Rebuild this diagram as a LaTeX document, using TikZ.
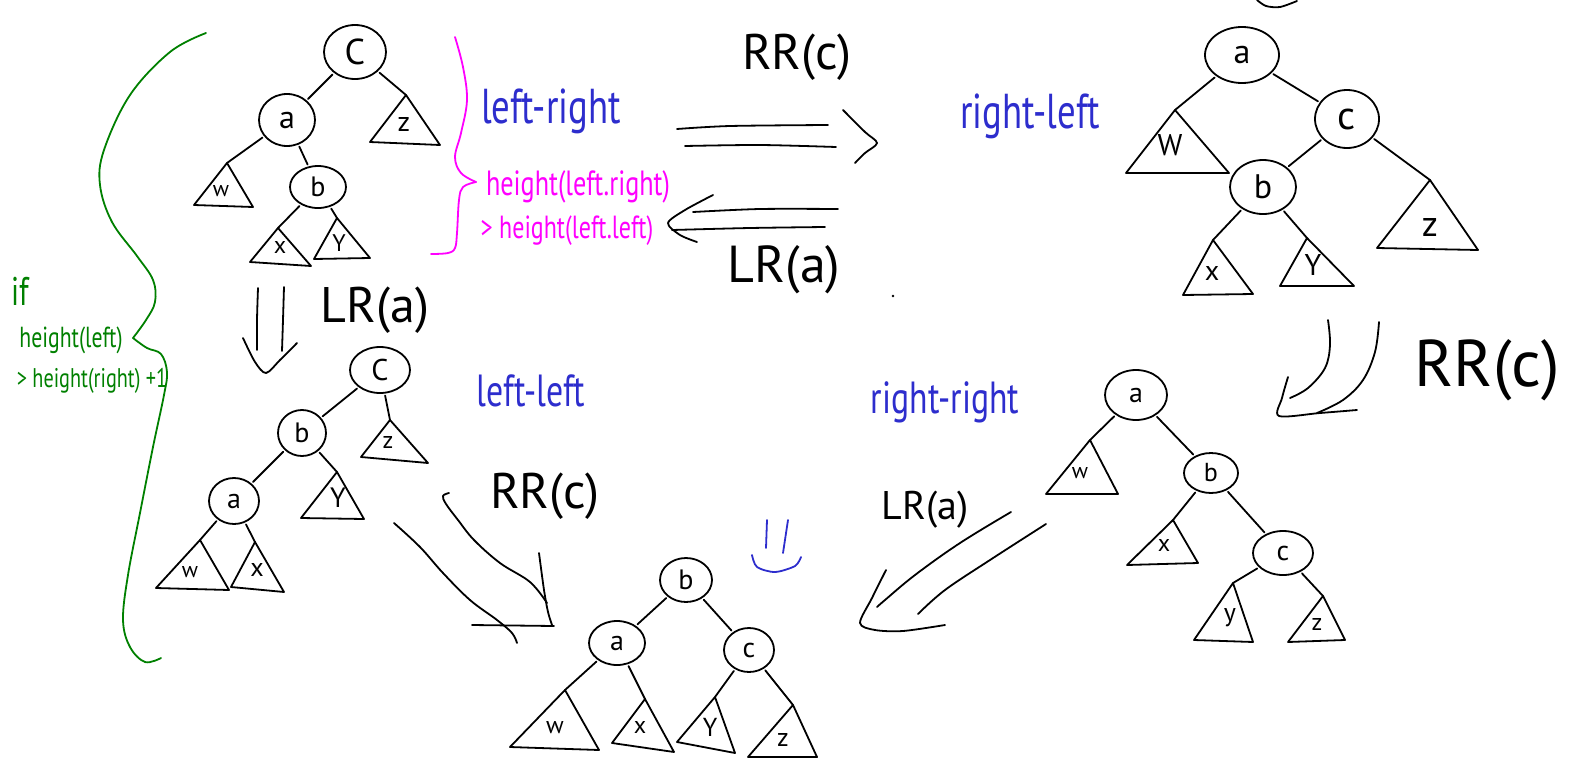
\documentclass[tikz,border=0pt]{standalone}
\usepackage{fontspec}
\usepackage{graphicx}
\setmainfont{PT Sans}
\usetikzlibrary{shapes.geometric}
\definecolor{hblue}{RGB}{45,45,205}
\definecolor{hmag}{RGB}{255,0,255}
\definecolor{hgreen}{RGB}{0,128,0}
\newcommand{\fsz}[1]{\fontsize{#1}{#1}\selectfont}
\newcommand{\narrow}[1]{\scalebox{0.75}[1]{#1}}
\begin{document}
\begin{tikzpicture}[x=1pt,y=-1pt,
  lw/.style={line width=1.8pt, line cap=round, line join=round},
  vtx/.style={ellipse, draw, lw, inner sep=0pt},
  conn/.style={lw, shorten <=2pt},
  vconn/.style={lw, shorten <=2pt, shorten >=2pt},
  tri/.style={draw, lw},
  hand/.style={lw},
  lbl/.style={inner sep=0pt},
  btxt/.style={inner sep=0pt, text=hblue},
  mtxt/.style={inner sep=0pt, text=hmag},
  gtxt/.style={inner sep=0pt, text=hgreen},
  ktxt/.style={inner sep=0pt},
]
\useasboundingbox (0,0) rectangle (1583,761);

% ---------- top-left tree ----------
\node[vtx, minimum width=62pt, minimum height=54pt, font=\fsz{36}] (TLc) at (355,52) {C};
\node[vtx, minimum width=56pt, minimum height=52pt, font=\fsz{32}] (TLa) at (287,120) {a};
\node[vtx, minimum width=56pt, minimum height=42pt, font=\fsz{28}] (TLb) at (318,187) {b};
\coordinate (TLz) at (406,95);
\draw[tri] (TLz) -- (370,142) -- (440,145) -- cycle;
\node[lbl, font=\fsz{28}] (TLzl) at (404,124) {z};
\coordinate (TLw) at (227,163);
\draw[tri] (TLw) -- (194,205) -- (253,207) -- cycle;
\node[lbl, font=\fsz{22}] (TLwl) at (221,191) {w};
\coordinate (TLx) at (278,228);
\draw[tri] (TLx) -- (250,262) -- (311,266) -- cycle;
\node[lbl, font=\fsz{24}] (TLxl) at (280,247) {x};
\coordinate (TLy) at (337,218);
\draw[tri] (TLy) -- (314,259) -- (370,258) -- cycle;
\node[lbl, font=\fsz{24}] (TLyl) at (339,243) {Y};
\draw[vconn] (TLc) -- (TLa);
\draw[conn] (TLc) -- (TLz);
\draw[conn] (TLa) -- (TLw);
\draw[vconn] (TLa) -- (TLb);
\draw[conn] (TLb) -- (TLx);
\draw[conn] (TLb) -- (TLy);

% magenta brace and text
\draw[lw, hmag] plot[smooth, tension=0.6] coordinates {(455,37) (463,67) (467,100) (461,133) (455,157) (461,173) (476,182)};
\draw[lw, hmag] plot[smooth, tension=0.6] coordinates {(476,182) (463,187) (459,200) (457,233) (455,248) (448,253) (431,254)};
\node[btxt, font=\fsz{49}] (tLR) at (551,111) {\narrow{left-right}};
\node[mtxt, font=\fsz{35}] (tH1) at (578,187) {\narrow{height(left.right)}};
\node[mtxt, font=\fsz{32}] (tH2) at (567,231) {\narrow{> height(left.left)}};

% green brace and text
\draw[lw, hgreen] plot[smooth, tension=0.6] coordinates {(206,33) (170,52) (130,95) (104,150) (100,185) (112,222) (137,256) (153,280) (155,302) (146,320) (133,338)};
\draw[lw, hgreen] plot[smooth, tension=0.6] coordinates {(133,338) (147,348) (161,354) (167,372) (164,395) (153,447) (140,513) (128,575) (123,620) (130,647) (145,662) (161,658)};
\node[gtxt, font=\fsz{40}] (tif) at (20,291) {\narrow{if}};
\node[gtxt, font=\fsz{29}] (tg1) at (71,340) {\narrow{height(left)}};
\node[gtxt, font=\fsz{27}] (tg2) at (92,381) {\narrow{> height(right) +1}};

% ---------- top arrows ----------
\node[ktxt, font=\fsz{50}] (tRR1) at (797,57) {RR(c)};
\node[ktxt, font=\fsz{52}] (tLR1) at (784,270) {LR(a)};
\draw[hand] plot[smooth] coordinates {(677,129) (730,126) (828,125)};
\draw[hand] plot[smooth] coordinates {(685,146) (760,145) (836,147)};
\draw[hand] plot[smooth, tension=0.5] coordinates {(843,110) (865,132) (877,143) (865,153) (855,163)};
\draw[hand] plot[smooth] coordinates {(693,212) (760,209) (838,209)};
\draw[hand] plot[smooth] coordinates {(672,230) (750,228) (825,227)};
\draw[hand] plot[smooth, tension=0.5] coordinates {(713,195) (685,210) (668,223) (680,235) (697,242)};
\fill (893,296) circle (1.3pt);

% ---------- top-right tree ----------
\node[btxt, font=\fsz{49}] (tRL) at (1030,116) {\narrow{right-left}};
\draw[hand] plot[smooth] coordinates {(1257,0) (1266,6) (1280,7) (1297,1)};
\node[vtx, minimum width=74pt, minimum height=56pt, font=\fsz{34}] (TRa) at (1242,55) {a};
\node[vtx, minimum width=64pt, minimum height=58pt, font=\fsz{40}] (TRc) at (1347,119) {c};
\node[vtx, minimum width=66pt, minimum height=54pt, font=\fsz{34}] (TRb) at (1263,187) {b};
\coordinate (TRw) at (1175,110);
\draw[tri] (TRw) -- (1126,173) -- (1229,173) -- cycle;
\node[lbl, font=\fsz{30}] (TRwl) at (1170,145) {W};
\coordinate (TRz) at (1430,180);
\draw[tri] (TRz) -- (1377,248) -- (1478,250) -- cycle;
\node[lbl, font=\fsz{36}] (TRzl) at (1430,227) {z};
\coordinate (TRx) at (1213,240);
\draw[tri] (TRx) -- (1183,295) -- (1253,294) -- cycle;
\node[lbl, font=\fsz{28}] (TRxl) at (1212,273) {x};
\coordinate (TRy) at (1307,238);
\draw[tri] (TRy) -- (1280,286) -- (1354,286) -- cycle;
\node[lbl, font=\fsz{30}] (TRyl) at (1313,265) {Y};
\draw[conn] (TRa) -- (TRw);
\draw[vconn] (TRa) -- (TRc);
\draw[vconn] (TRc) -- (TRb);
\draw[conn] (TRc) -- (TRz);
\draw[conn] (TRb) -- (TRx);
\draw[conn] (TRb) -- (TRy);

% ---------- left down arrow ----------
\node[ktxt, font=\fsz{50}] (tLR2) at (375,310) {LR(a)};
\draw[hand] plot[smooth] coordinates {(258,288) (257,320) (257,350)};
\draw[hand] plot[smooth] coordinates {(284,287) (283,320) (282,351)};
\draw[hand] plot[smooth, tension=0.5] coordinates {(243,338) (255,362) (266,373) (280,360) (297,343)};

% ---------- left-left tree ----------
\node[btxt, font=\fsz{45}] (tLL) at (531,391) {\narrow{left-left}};
\node[vtx, minimum width=60pt, minimum height=46pt, font=\fsz{30}] (LLc) at (380,370) {C};
\node[vtx, minimum width=48pt, minimum height=46pt, font=\fsz{28}] (LLb) at (302,433) {b};
\node[vtx, minimum width=50pt, minimum height=46pt, font=\fsz{28}] (LLa) at (234,501) {a};
\coordinate (LLz) at (390,420);
\draw[tri] (LLz) -- (361,457) -- (428,463) -- cycle;
\node[lbl, font=\fsz{24}] (LLzl) at (388,442) {z};
\coordinate (LLy) at (337,472);
\draw[tri] (LLy) -- (301,518) -- (364,519) -- cycle;
\node[lbl, font=\fsz{28}] (LLyl) at (338,498) {Y};
\coordinate (LLw) at (200,540);
\draw[tri] (LLw) -- (156,588) -- (229,590) -- cycle;
\node[lbl, font=\fsz{22}] (LLwl) at (190,572) {w};
\coordinate (LLx) at (255,542);
\draw[tri] (LLx) -- (231,587) -- (284,592) -- cycle;
\node[lbl, font=\fsz{26}] (LLxl) at (257,570) {x};
\draw[vconn] (LLc) -- (LLb);
\draw[conn] (LLc) -- (LLz);
\draw[vconn] (LLb) -- (LLa);
\draw[conn] (LLb) -- (LLy);
\draw[conn] (LLa) -- (LLw);
\draw[conn] (LLa) -- (LLx);

% ---------- bottom-left arrow ----------
\node[ktxt, font=\fsz{50}] (tRR2) at (545,496) {RR(c)};
\draw[hand] plot[smooth, tension=0.6] coordinates {(449,493) (443,496) (446,504) (458,520) (474,540) (500,563) (530,582) (547,603)};
\draw[hand] plot[smooth, tension=0.6] coordinates {(394,523) (420,547) (443,573) (470,600) (497,620) (512,633) (517,643)};
\draw[hand] plot[smooth] coordinates {(539,553) (544,590) (548,612) (552,625)};
\draw[hand] (472,625) -- (554,626);

% ---------- bottom tree ----------
\node[vtx, minimum width=52pt, minimum height=44pt, font=\fsz{28}] (Bb) at (686,580) {b};
\node[vtx, minimum width=56pt, minimum height=44pt, font=\fsz{28}] (Ba) at (617,643) {a};
\node[vtx, minimum width=50pt, minimum height=44pt, font=\fsz{28}] (Bc) at (749,650) {c};
\coordinate (Bw) at (565,690);
\draw[tri] (Bw) -- (510,747) -- (599,750) -- cycle;
\node[lbl, font=\fsz{24}] (Bwl) at (555,728) {w};
\coordinate (Bx) at (645,699);
\draw[tri] (Bx) -- (612,743) -- (674,752) -- cycle;
\node[lbl, font=\fsz{24}] (Bxl) at (640,727) {x};
\coordinate (By) at (715,697);
\draw[tri] (By) -- (677,742) -- (735,753) -- cycle;
\node[lbl, font=\fsz{26}] (Byl) at (710,727) {Y};
\coordinate (Bz) at (793,705);
\draw[tri] (Bz) -- (748,757) -- (817,757) -- cycle;
\node[lbl, font=\fsz{26}] (Bzl) at (783,740) {z};
\draw[vconn] (Bb) -- (Ba);
\draw[vconn] (Bb) -- (Bc);
\draw[conn] (Ba) -- (Bw);
\draw[conn] (Ba) -- (Bx);
\draw[conn] (Bc) -- (By);
\draw[conn] (Bc) -- (Bz);

% blue smile
\draw[lw, hblue] (767,520) -- (766,548);
\draw[lw, hblue] (788,520) -- (783,553);
\draw[lw, hblue] plot[smooth] coordinates {(752,555) (757,567) (775,572) (795,566) (801,557)};

% ---------- right arrows ----------
\node[ktxt, font=\fsz{66}] (tRR3) at (1487,370) {RR(c)};
\draw[hand] plot[smooth, tension=0.6] coordinates {(1328,320) (1330,345) (1325,368) (1308,388) (1290,398)};
\draw[hand] plot[smooth, tension=0.6] coordinates {(1379,322) (1375,352) (1363,380) (1343,400) (1317,413)};
\draw[hand] plot[smooth, tension=0.5] coordinates {(1288,377) (1282,398) (1279,416) (1320,413) (1357,410)};

\node[ktxt, font=\fsz{40}] (tLR3) at (925,510) {LR(a)};
\draw[hand] plot[smooth, tension=0.6] coordinates {(1011,512) (960,543) (915,575) (885,600) (877,607)};
\draw[hand] plot[smooth, tension=0.6] coordinates {(1046,524) (990,560) (945,590) (918,614)};
\draw[hand] plot[smooth, tension=0.5] coordinates {(886,570) (872,598) (860,623) (875,630) (903,631) (945,625)};

% ---------- right-right tree ----------
\node[btxt, font=\fsz{45}] (tRRt) at (945,402) {\narrow{right-right}};
\node[vtx, minimum width=62pt, minimum height=50pt, font=\fsz{28}] (RRa) at (1136,395) {a};
\node[vtx, minimum width=54pt, minimum height=40pt, font=\fsz{26}] (RRb) at (1211,473) {b};
\node[vtx, minimum width=60pt, minimum height=44pt, font=\fsz{28}] (RRc) at (1283,553) {c};
\coordinate (RRw) at (1090,440);
\draw[tri] (RRw) -- (1046,494) -- (1118,494) -- cycle;
\node[lbl, font=\fsz{22}] (RRwl) at (1080,473) {w};
\coordinate (RRx) at (1173,520);
\draw[tri] (RRx) -- (1127,565) -- (1198,563) -- cycle;
\node[lbl, font=\fsz{24}] (RRxl) at (1164,545) {x};
\coordinate (RRy) at (1233,583);
\draw[tri] (RRy) -- (1194,640) -- (1253,642) -- cycle;
\node[lbl, font=\fsz{26}] (RRyl) at (1230,618) {y};
\coordinate (RRz) at (1323,596);
\draw[tri] (RRz) -- (1288,642) -- (1345,640) -- cycle;
\node[lbl, font=\fsz{24}] (RRzl) at (1317,624) {z};
\draw[conn] (RRa) -- (RRw);
\draw[vconn] (RRa) -- (RRb);
\draw[conn] (RRb) -- (RRx);
\draw[vconn] (RRb) -- (RRc);
\draw[conn] (RRc) -- (RRy);
\draw[conn] (RRc) -- (RRz);
\end{tikzpicture}
\end{document}
